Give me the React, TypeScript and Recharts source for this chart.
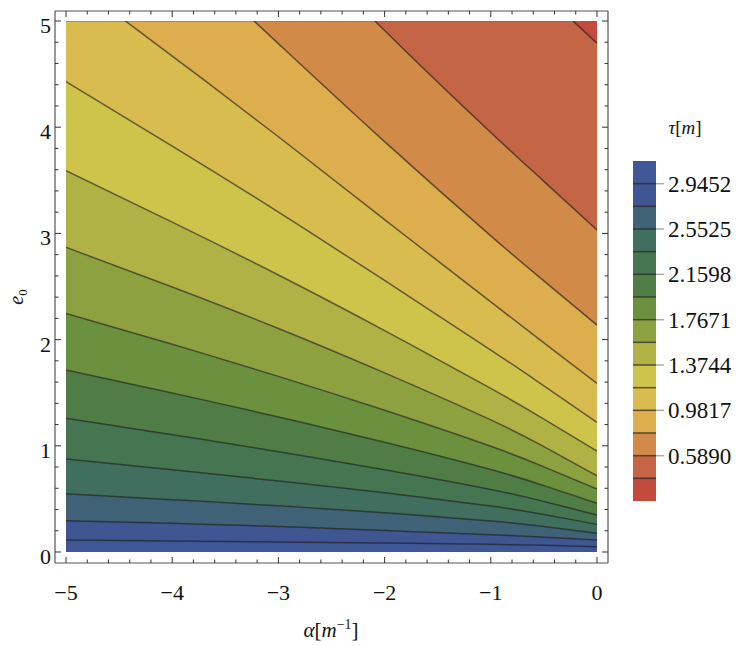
import { ComposedChart, Area, Line, XAxis, YAxis, ReferenceLine } from "recharts";

// ─── Data ─────────────────────────────────────────────────────────────────

const alpha = [-5, -4, -3, -2, -1, -0.5, 0];

// e0 of each contour line at the alpha samples, tau = 15π/16 … 2π/16
const c15 = [0.113, 0.104, 0.094, 0.084, 0.072, 0.063, 0.05];
const c14 = [0.295, 0.27, 0.241, 0.203, 0.163, 0.14, 0.113];
const c13 = [0.549, 0.493, 0.435, 0.37, 0.293, 0.24, 0.176];
const c12 = [0.876, 0.774, 0.669, 0.558, 0.433, 0.353, 0.26];
const c11 = [1.259, 1.105, 0.945, 0.775, 0.589, 0.475, 0.348];
const c10 = [1.714, 1.497, 1.272, 1.034, 0.777, 0.625, 0.458];
const c9 = [2.247, 1.956, 1.654, 1.334, 0.995, 0.802, 0.593];
const c8 = [2.869, 2.495, 2.105, 1.687, 1.244, 0.992, 0.718];
const c7 = [3.59, 3.106, 2.608, 2.085, 1.541, 1.252, 0.951];
const c6 = [4.429, 3.822, 3.201, 2.557, 1.902, 1.565, 1.221];
const c5 = [5.42, 4.67, 3.91, 3.13, 2.355, 1.97, 1.588];
const c4 = [6.6, 5.71, 4.787, 3.864, 2.977, 2.553, 2.137];
const c3 = [7.9, 6.95, 5.93, 4.91, 3.95, 3.49, 3.032];
const c2 = [9.5, 8.6, 7.6, 6.65, 5.7, 5.25, 4.79];

const contours = [c15, c14, c13, c12, c11, c10, c9, c8, c7, c6, c5, c4, c3, c2];

// band fills, bottom of plot (largest tau) to top (smallest tau)
const bandColors = [
  "#3f5797", "#3f5693", "#3f6277", "#416f5f", "#467651",
  "#4f7d45", "#6b903e", "#8da141", "#b0b246", "#cec34b",
  "#d8bc4f", "#dcae4e", "#d28a48", "#c46545", "#c24b3d",
];

// kπ/16, k = 1..16
const tauEdges = [
  0.1963, 0.3927, 0.589, 0.7854, 0.9817, 1.1781, 1.3744, 1.5708,
  1.7671, 1.9635, 2.1598, 2.3562, 2.5525, 2.7489, 2.9452, 3.1416,
];
const tauTicks = [2.9452, 2.5525, 2.1598, 1.7671, 1.3744, 0.9817, 0.589];

const majorX = [-5, -4, -3, -2, -1, 0];
const majorY = [0, 1, 2, 3, 4, 5];
const minorX = majorX.slice(0, -1).flatMap((m) => [0.2, 0.4, 0.6, 0.8].map((d) => +(m + d).toFixed(1)));
const minorY = majorY.slice(0, -1).flatMap((m) => [0.2, 0.4, 0.6, 0.8].map((d) => +(m + d).toFixed(1)));
const xTicks = [...majorX, ...minorX].sort((a, b) => a - b);
const yTicks = [...majorY, ...minorY].sort((a, b) => a - b);

const table = alpha.map((a, i) => {
  const row: Record<string, unknown> = { a };
  contours.forEach((c, k) => (row["c" + k] = c[i]));
  bandColors.forEach((_, k) => {
    const lo = k === 0 ? 0 : contours[k - 1][i];
    const hi = k === contours.length ? 5 : contours[k][i];
    row["b" + k] = [lo, hi];
  });
  return row;
});

const legendRows = [0, 1].map((x) => {
  const row: Record<string, unknown> = { x };
  bandColors.forEach((_, k) => (row["b" + k] = [tauEdges[14 - k], tauEdges[15 - k]]));
  return row;
});

// ─── Styling ──────────────────────────────────────────────────────────────

const W = 747;
const H = 646;
const font = "'Liberation Serif', 'DejaVu Serif', serif";
const frameStroke = { stroke: "#555", strokeWidth: 1.2 };
const tickColor = "#333";
const layer = { position: "absolute" as const, left: 0, top: 0 };
const curve = "natural";

const fmt = (v: number) => (v < 0 ? "\u2212" + Math.abs(v) : String(v));
const tickLen = (major: boolean) => (major ? 6 : 3.5);

function BottomTick({ x, y, payload }: any) {
  const major = majorX.includes(payload.value);
  return (
    <g>
      <line x1={x} x2={x} y1={y} y2={y - tickLen(major)} stroke={tickColor} />
      {major && (
        <text x={x} y={y + 37} textAnchor="middle" fontSize={22} fontFamily={font} fill="#111">
          {fmt(payload.value)}
        </text>
      )}
    </g>
  );
}

function TopTick({ x, y, payload }: any) {
  const major = majorX.includes(payload.value);
  return <line x1={x} x2={x} y1={y} y2={y + tickLen(major)} stroke={tickColor} />;
}

function LeftTick({ x, y, payload }: any) {
  const major = majorY.includes(payload.value);
  return (
    <g>
      <line x1={x} x2={x + tickLen(major)} y1={y} y2={y} stroke={tickColor} />
      {major && (
        <text x={x - 4} y={y + 12} textAnchor="end" fontSize={22} fontFamily={font} fill="#111">
          {fmt(payload.value)}
        </text>
      )}
    </g>
  );
}

function RightTick({ x, y, payload }: any) {
  const major = majorY.includes(payload.value);
  return <line x1={x} x2={x - tickLen(major)} y1={y} y2={y} stroke={tickColor} />;
}

function LegendTick({ x, y, payload }: any) {
  return (
    <g>
      <line x1={x} x2={x + 8} y1={y} y2={y} stroke="#aaa" strokeWidth={1.5} />
      <text x={x + 12} y={y + 8} fontSize={23} fontFamily={font} fill="#111">
        {payload.value.toFixed(4)}
      </text>
    </g>
  );
}

// ─── Chart ────────────────────────────────────────────────────────────────

export default function App() {
  return (
    <div style={{ position: "absolute", left: 0, top: 0, width: W, height: H, background: "#fff" }}>
      {/* filled contour bands + contour lines */}
      <div style={layer}>
        <ComposedChart width={W} height={H} data={table} margin={{ top: 21, right: 150, bottom: 94, left: 66 }}>
          <XAxis dataKey="a" type="number" domain={[-5, 0]} hide allowDataOverflow />
          <YAxis type="number" domain={[0, 5]} hide allowDataOverflow />
          {bandColors.map((col, k) => (
            <Area
              key={"b" + k}
              dataKey={"b" + k}
              type={curve}
              fill={col}
              fillOpacity={1}
              stroke={col}
              strokeWidth={1}
              isAnimationActive={false}
            />
          ))}
          {contours.map((_, k) => (
            <Line
              key={"c" + k}
              dataKey={"c" + k}
              type={curve}
              stroke="#1b1b1b"
              strokeOpacity={0.62}
              strokeWidth={1.5}
              dot={false}
              activeDot={false}
              isAnimationActive={false}
            />
          ))}
        </ComposedChart>
      </div>

      {/* frame with ticks on all four sides */}
      <div style={layer}>
        <ComposedChart width={W} height={H} data={table} margin={{ top: 10, right: 138, bottom: 82, left: 54 }}>
          <XAxis
            xAxisId="b"
            dataKey="a"
            type="number"
            domain={[-5.1036, 0.1036]}
            allowDataOverflow
            ticks={xTicks}
            interval={0}
            height={1}
            tickSize={0}
            tickMargin={0}
            tickLine={false}
            axisLine={frameStroke}
            tick={(p: any) => <BottomTick {...p} />}
            label={{
              content: () => (
                <text x={331} y={637} textAnchor="middle" fontSize={21} fontFamily={font} fill="#111">
                  <tspan fontStyle="italic">α</tspan>
                  <tspan>[</tspan>
                  <tspan fontStyle="italic">m</tspan>
                  <tspan dy={-8} fontSize={14}>{"\u22121"}</tspan>
                  <tspan dy={8}>]</tspan>
                </text>
              ),
            }}
          />
          <XAxis
            xAxisId="t"
            orientation="top"
            dataKey="a"
            type="number"
            domain={[-5.1036, 0.1036]}
            allowDataOverflow
            ticks={xTicks}
            interval={0}
            height={1}
            tickSize={0}
            tickMargin={0}
            tickLine={false}
            axisLine={frameStroke}
            tick={(p: any) => <TopTick {...p} />}
          />
          <YAxis
            yAxisId="l"
            type="number"
            domain={[-0.1036, 5.0942]}
            allowDataOverflow
            ticks={yTicks}
            interval={0}
            width={1}
            tickSize={0}
            tickMargin={0}
            tickLine={false}
            axisLine={frameStroke}
            tick={(p: any) => <LeftTick {...p} />}
            label={{
              content: () => (
                <text x={23} y={297} transform="rotate(-90 23 297)" textAnchor="middle" fontSize={20} fontFamily={font} fill="#111">
                  <tspan fontStyle="italic">e</tspan>
                  <tspan dy={4} fontSize={13}>0</tspan>
                </text>
              ),
            }}
          />
          <YAxis
            yAxisId="r"
            orientation="right"
            type="number"
            domain={[-0.1036, 5.0942]}
            allowDataOverflow
            ticks={yTicks}
            interval={0}
            width={1}
            tickSize={0}
            tickMargin={0}
            tickLine={false}
            axisLine={frameStroke}
            tick={(p: any) => <RightTick {...p} />}
          />
        </ComposedChart>
      </div>

      {/* colour bar legend */}
      <div style={layer}>
        <ComposedChart width={W} height={H} data={legendRows} margin={{ top: 161, right: 90, bottom: 145, left: 633 }}>
          <XAxis dataKey="x" type="number" domain={[0, 1]} hide />
          <YAxis
            orientation="right"
            type="number"
            domain={[tauEdges[0], tauEdges[15]]}
            allowDataOverflow
            ticks={tauTicks}
            interval={0}
            width={1}
            tickSize={0}
            tickMargin={0}
            tickLine={false}
            axisLine={false}
            tick={(p: any) => <LegendTick {...p} />}
            label={{
              content: () => (
                <text x={685} y={134} textAnchor="middle" fontSize={19} fontFamily={font} fill="#111">
                  <tspan fontStyle="italic">τ</tspan>
                  <tspan>[</tspan>
                  <tspan fontStyle="italic">m</tspan>
                  <tspan>]</tspan>
                </text>
              ),
            }}
          />
          {bandColors.map((col, k) => (
            <Area
              key={"lb" + k}
              dataKey={"b" + k}
              type="linear"
              fill={col}
              fillOpacity={1}
              stroke={col}
              strokeWidth={0.5}
              isAnimationActive={false}
            />
          ))}
          {tauEdges.slice(1, 15).map((t) => (
            <ReferenceLine key={t} y={t} stroke="#222" strokeOpacity={0.7} strokeWidth={1.5} />
          ))}
        </ComposedChart>
      </div>
    </div>
  );
}
